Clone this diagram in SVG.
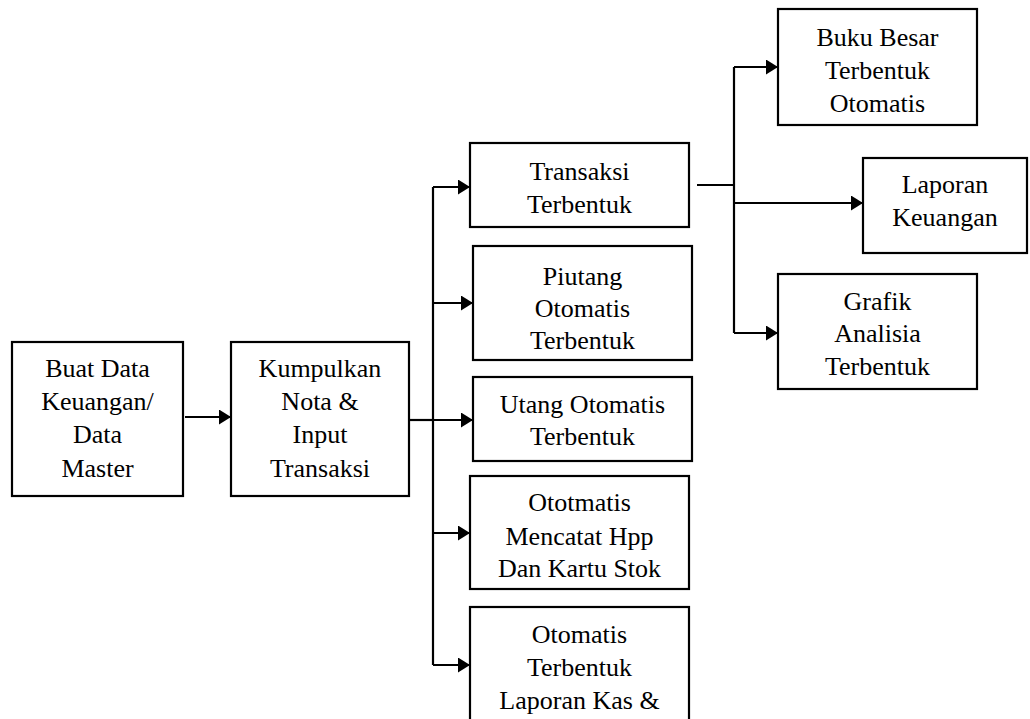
<svg xmlns="http://www.w3.org/2000/svg" width="1030" height="719" viewBox="0 0 1030 719">
<defs>
<marker id="ah" markerWidth="12" markerHeight="15" refX="12" refY="7.5" orient="auto" markerUnits="userSpaceOnUse">
<path d="M0,0 L12,7.5 L0,15 Z" fill="#000"/>
</marker>
<style>
.box{fill:#fff;stroke:#000;stroke-width:2.2}
.t{font-family:'Liberation Serif','Times New Roman',Times,'DejaVu Serif',serif;font-size:26px;fill:#000;text-anchor:middle}
.c{fill:none;stroke:#000;stroke-width:2.2}
.a{fill:none;stroke:#000;stroke-width:2.2;marker-end:url(#ah)}
</style>
</defs>
<rect width="1030" height="719" fill="#fff"/>
<g id="connectors">
<path class="a" d="M185,417 H231"/>
<path class="c" d="M409,420 H433"/>
<path class="c" d="M433,187 V665"/>
<path class="a" d="M433,187 H470"/>
<path class="a" d="M433,303 H473"/>
<path class="a" d="M433,420 H473"/>
<path class="a" d="M433,533 H470"/>
<path class="a" d="M433,665 H470"/>
<path class="c" d="M697,185 H734"/>
<path class="c" d="M734,67 V333"/>
<path class="a" d="M734,67 H778"/>
<path class="a" d="M734,203 H863"/>
<path class="a" d="M734,333 H778"/>
</g>
<g id="n1"><rect class="box" x="12" y="342" width="171" height="154"/>
<text class="t" x="97.5" y="377" font-family="Liberation Serif">Buat Data</text><text class="t" x="97.5" y="410">Keuangan/</text><text class="t" x="97.5" y="443">Data</text><text class="t" x="97.5" y="477">Master</text></g>
<g id="n2"><rect class="box" x="231" y="342" width="178" height="154"/>
<text class="t" x="320" y="377">Kumpulkan</text><text class="t" x="320" y="410">Nota &amp;</text><text class="t" x="320" y="443">Input</text><text class="t" x="320" y="477">Transaksi</text></g>
<g id="n3"><rect class="box" x="470" y="143" width="219" height="84"/>
<text class="t" x="579.5" y="180">Transaksi</text><text class="t" x="579.5" y="213">Terbentuk</text></g>
<g id="n4"><rect class="box" x="473" y="246" width="219" height="114"/>
<text class="t" x="582.5" y="285">Piutang</text><text class="t" x="582.5" y="317">Otomatis</text><text class="t" x="582.5" y="349">Terbentuk</text></g>
<g id="n5"><rect class="box" x="473" y="377" width="219" height="84"/>
<text class="t" x="582.5" y="413">Utang Otomatis</text><text class="t" x="582.5" y="445">Terbentuk</text></g>
<g id="n6"><rect class="box" x="470" y="476" width="219" height="113"/>
<text class="t" x="579.5" y="511">Ototmatis</text><text class="t" x="579.5" y="545">Mencatat Hpp</text><text class="t" x="579.5" y="577">Dan Kartu Stok</text></g>
<g id="n7"><rect class="box" x="470" y="607" width="219" height="130"/>
<text class="t" x="579.5" y="643">Otomatis</text><text class="t" x="579.5" y="676">Terbentuk</text><text class="t" x="579.5" y="709">Laporan Kas &amp;</text></g>
<g id="n8"><rect class="box" x="778" y="9" width="199" height="116"/>
<text class="t" x="877.5" y="46">Buku Besar</text><text class="t" x="877.5" y="79">Terbentuk</text><text class="t" x="877.5" y="112">Otomatis</text></g>
<g id="n9"><rect class="box" x="863" y="158" width="164" height="95"/>
<text class="t" x="945" y="193">Laporan</text><text class="t" x="945" y="226">Keuangan</text></g>
<g id="n10"><rect class="box" x="778" y="274" width="199" height="115"/>
<text class="t" x="877.5" y="310">Grafik</text><text class="t" x="877.5" y="342">Analisia</text><text class="t" x="877.5" y="375">Terbentuk</text></g>
</svg>
